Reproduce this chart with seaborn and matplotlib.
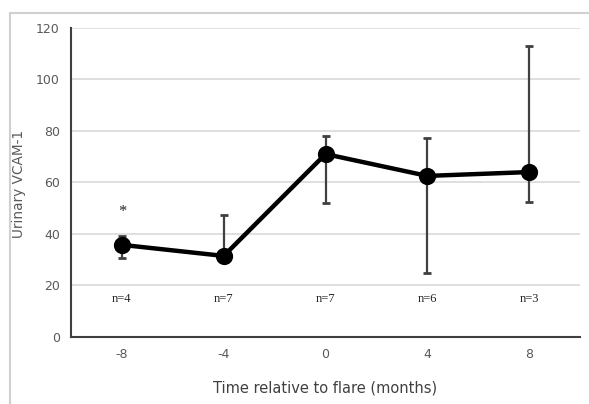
import matplotlib
matplotlib.use("Agg")
import matplotlib.pyplot as plt
import seaborn as sns
import pandas as pd
import numpy as np
from matplotlib.patches import Rectangle

months = ["-8", "-4", "0", "4", "8"]
vcam = [35.7, 31.4, 71.0, 62.5, 64.0]
err_low = [30.5, 31.4, 52.0, 24.7, 52.5]
err_high = [39.3, 47.3, 78.2, 77.4, 112.9]
n_labels = ["n=4", "n=7", "n=7", "n=6", "n=3"]

df = pd.DataFrame({"month": months, "vcam": vcam})

sns.set_style("white")
fig = plt.figure(figsize=(5.89, 4.04), dpi=100)
ax = fig.add_axes([71/589, 1-336.7/404, (580-71)/589, (336.7-28)/404])

pos = np.arange(len(months))
lo = np.array(vcam) - np.array(err_low)
hi = np.array(err_high) - np.array(vcam)
ax.errorbar(pos, vcam, yerr=[lo, hi], fmt="none", ecolor="#404040",
            elinewidth=1.6, capsize=3, capthick=2, zorder=2)
sns.pointplot(data=df, x="month", y="vcam", color="black", ax=ax,
              markersize=10, linewidth=3.2, errorbar=None, zorder=3)

ax.set_ylim(0, 120)
ax.set_xlim(-0.5, 4.5)
ax.set_yticks(range(0, 121, 20))
ax.yaxis.grid(True, color="#d9d9d9", linewidth=1.2)
ax.set_axisbelow(True)
for s in ["top", "right"]:
    ax.spines[s].set_visible(False)
for s in ["left", "bottom"]:
    ax.spines[s].set_color("#404040")
    ax.spines[s].set_linewidth(1.5)
ax.tick_params(axis="both", length=0, labelsize=9, labelcolor="#595959", pad=8)
ax.set_xlabel("Time relative to flare (months)", fontsize=10.5, color="#404040", labelpad=14)
ax.set_ylabel("Urinary VCAM-1", fontsize=9.8, color="#595959")
ax.yaxis.set_label_coords((26-71)/509, 0.495)

for i, t in enumerate(n_labels):
    ax.text(pos[i], 14.6, t, ha="center", va="center", fontsize=9,
            family="Liberation Serif", color="#262626")
ax.text(pos[0], 48.5, "*", ha="center", va="center", fontsize=12,
        family="Liberation Serif", color="#262626")

fig.patches.append(Rectangle((9.5/589, -0.05), 1.1, (404-13)/404 + 0.05,
                             transform=fig.transFigure, fill=False,
                             edgecolor="#d0d0d0", linewidth=1.5))

fig.savefig("out.png", dpi=100)
